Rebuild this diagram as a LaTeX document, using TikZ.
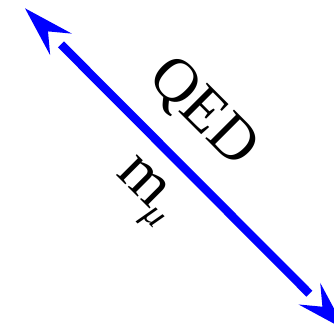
\documentclass[tikz,border=0pt]{standalone}
\usepackage{fontspec}
\setmainfont{Liberation Serif}
\usetikzlibrary{calc}
\begin{document}
\begin{tikzpicture}[x=1pt,y=-1pt,
  arrowline/.style={draw=blue,line width=8.5pt},
  headfill/.style={fill=blue},
  lbl/.style={inner sep=0pt,rotate=-45,anchor=base west,font=\fontsize{62}{62}\selectfont}]
\clip (0,0) rectangle (334,331);
\coordinate (A) at (25,8.3);
\coordinate (B) at (345.4,329.8);
\draw[arrowline] ($(A)!51pt!(B)$) -- ($(B)!51pt!(A)$);
\fill[headfill] (A) -- ($(A)!53.25pt!16.7:(B)$) -- ($(A)!32.6pt!(B)$) -- ($(A)!53.25pt!-16.7:(B)$) -- cycle;
\fill[headfill] (B) -- ($(B)!53.25pt!16.7:(A)$) -- ($(B)!32.6pt!(A)$) -- ($(B)!53.25pt!-16.7:(A)$) -- cycle;
\node[lbl] (qed) at (146,78.9) {QED};
\node[lbl,font=\fontsize{64}{64}\selectfont] (mmu) at (115,174.8) {m\kern-2pt\raisebox{-11pt}{\fontsize{36}{36}\selectfont\itshape μ}};
\end{tikzpicture}
\end{document}
